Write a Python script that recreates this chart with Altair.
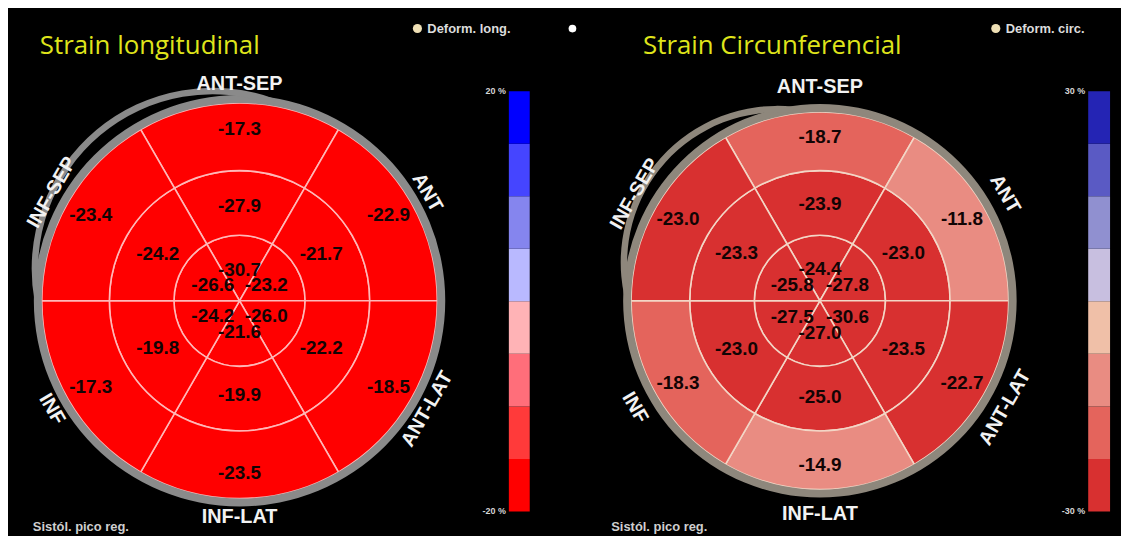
import math
import pandas as pd
import altair as alt

# ---------------- data ----------------
segments = ["ANT-SEP", "ANT", "ANT-LAT", "INF-LAT", "INF", "INF-SEP"]  # clockwise from top

long_apex = [-30.7, -23.2, -26.0, -21.6, -24.2, -26.6]
long_mid = [-27.9, -21.7, -22.2, -19.9, -19.8, -24.2]
long_outer = [-17.3, -22.9, -18.5, -23.5, -17.3, -23.4]

circ_apex = [-24.4, -27.8, -30.6, -27.0, -27.5, -25.8]
circ_mid = [-23.9, -23.0, -23.5, -25.0, -23.0, -23.3]
circ_outer = [-18.7, -11.8, -22.7, -14.9, -18.3, -23.0]

long_range = [-20, 20]
circ_range = [-30, 30]
long_ticks = ["20 %", "-20 %"]
circ_ticks = ["30 %", "-30 %"]

# colour steps, bottom (most negative) to top
long_colors = ["#ff0000", "#ff3a3a", "#ff6e7a", "#ffb3b6", "#b9b9ff", "#8585ee", "#4545ff", "#0000ff"]
circ_colors = ["#d83030", "#e4645c", "#e98c82", "#f0c0a8", "#c8bfe0", "#9090d0", "#5a5ac4", "#2424b4"]

W, H = 560, 528


def panel(title, legend_label, apex, mid, outer, vrange, colors, ticks, g, white_dot=False):
    cx, cy, R = g["cx"], g["cy"], g["R"]
    ring_px = [0, 66, 131, R]

    def to_u(px):
        if px <= 66:
            return px / 66
        if px <= 131:
            return 1 + (px - 66) / 65
        return 2 + (px - 131) / (R - 131)

    theta_scale = alt.Scale(domain=[0, 360], range=[0, 2 * math.pi])
    radius_scale = alt.Scale(type="linear", domain=[0, 1, 2, 3], range=ring_px)
    lo, hi = vrange
    step = (hi - lo) / 8
    color_scale = alt.Scale(type="threshold", domain=[lo + step * i for i in range(1, 8)], range=colors)

    rows = []
    for ring, vals in enumerate([apex, mid, outer]):
        for s, v in enumerate(vals):
            rows.append({
                "seg": segments[s], "ring": ring, "value": v,
                "label": f"{v:.1f}",
                "t0": s * 60 - 30, "t1": s * 60 + 30, "tm": s * 60,
                "r0": ring, "r1": ring + 1,
                "lr": to_u(g["lab_px"][ring]),
            })
    df = pd.DataFrame(rows)

    cxv, cyv = alt.value(cx), alt.value(cy)

    fills = alt.Chart(df).mark_arc(stroke=g["line"], strokeWidth=1.6).encode(
        x=cxv, y=cyv,
        theta=alt.Theta("t0:Q", scale=theta_scale, stack=False),
        theta2="t1:Q",
        radius=alt.Radius("r1:Q", scale=radius_scale),
        radius2="r0:Q",
        color=alt.Color("value:Q", scale=color_scale, legend=None),
    )

    rim_df = pd.DataFrame({"t0": [0], "t1": [360], "r0": [3], "r1": [to_u(R + g["rimw"])]})
    rim = alt.Chart(rim_df).mark_arc(color=g["rim"]).encode(
        x=cxv, y=cyv,
        theta=alt.Theta("t0:Q", scale=theta_scale, stack=False),
        theta2="t1:Q",
        radius=alt.Radius("r1:Q", scale=radius_scale),
        radius2="r0:Q",
    )

    # loop of the rim at the upper-left (decorative)
    Rm = R + g["rimw"] / 2
    p = g["loop_p"]
    ta, tb = g["loop_a"], g["loop_b"]
    bis = math.radians((ta + tb) / 2)
    alpha = math.radians((tb - ta) / 2)
    t = ((Rm + p) ** 2 - Rm ** 2) / (2 * (Rm + p) - 2 * Rm * math.cos(alpha))
    rho = Rm + p - t
    Cx, Cy = cx + t * math.sin(bis), cy - t * math.cos(bis)

    def ang(th):
        ax, ay = cx + Rm * math.sin(math.radians(th)), cy - Rm * math.cos(math.radians(th))
        return math.degrees(math.atan2(ax - Cx, -(ay - Cy)))

    pa, pb = ang(ta), ang(tb)
    while pb < pa:
        pb += 360
    lw = g["rimw"] - 1.5
    loop_df = pd.DataFrame({"t0": [pa], "t1": [pb], "r0": [to_u(rho - lw / 2)], "r1": [to_u(rho + lw / 2)]})
    loop = alt.Chart(loop_df).mark_arc(color=g["rim"]).encode(
        x=alt.value(Cx), y=alt.value(Cy),
        theta=alt.Theta("t0:Q", scale=theta_scale, stack=False),
        theta2="t1:Q",
        radius=alt.Radius("r1:Q", scale=radius_scale),
        radius2="r0:Q",
    )

    values = alt.Chart(df).mark_text(
        font="Liberation Sans", fontSize=19, fontWeight="bold", color="#120404",
        align="center", baseline="middle",
    ).encode(
        x=cxv, y=cyv,
        theta=alt.Theta("tm:Q", scale=theta_scale, stack=False),
        radius=alt.Radius("lr:Q", scale=radius_scale),
        text="label:N",
    )

    dir_df = pd.DataFrame({
        "name": segments,
        "tm": [s * 60 for s in range(6)],
    })
    dir_df["lr"] = to_u(g["dir_px"])
    dir_df["rot"] = (((dir_df["tm"] + 90) % 180) - 90) % 360
    dirs = alt.Chart(dir_df).mark_text(
        font="Liberation Sans", fontSize=20, fontWeight="bold", color="#f2f2f2",
        align="center", baseline="middle",
    ).encode(
        x=cxv, y=cyv,
        theta=alt.Theta("tm:Q", scale=theta_scale, stack=False),
        radius=alt.Radius("lr:Q", scale=radius_scale),
        angle=alt.Angle("rot:Q", scale=None),
        text="name:N",
    )

    # colour bar
    y_scale = alt.Scale(domain=[lo, hi], range=[g["bar_bot"], g["bar_top"]], nice=False)
    bar_df = pd.DataFrame({
        "lo": [lo + step * i for i in range(8)],
        "hi": [lo + step * (i + 1) for i in range(8)],
    })
    bar_df["value"] = (bar_df["lo"] + bar_df["hi"]) / 2
    bar = alt.Chart(bar_df).mark_rect().encode(
        x=alt.value(g["bar_x0"]), x2=alt.value(g["bar_x1"]),
        y=alt.Y("hi:Q", scale=y_scale, axis=None), y2="lo:Q",
        color=alt.Color("value:Q", scale=color_scale, legend=None),
    )
    tick_df = pd.DataFrame({"v": [hi, lo], "lab": ticks})
    tick_txt = alt.Chart(tick_df).mark_text(
        font="Liberation Sans", fontSize=9, fontWeight="bold", color="#d6d6d6",
        align="right", baseline="middle",
    ).encode(
        x=alt.value(g["bar_x0"] - 3),
        y=alt.Y("v:Q", scale=y_scale, axis=None),
        text="lab:N",
    )

    ttl = alt.Chart(pd.DataFrame({"t": [title]})).mark_text(
        font="Open Sans", fontSize=26, color="#dfe41b", align="left", baseline="middle",
    ).encode(x=alt.value(g["title_x"]), y=alt.value(37), text="t:N")

    leg_dot = alt.Chart(pd.DataFrame({"a": [0]})).mark_circle(
        color="#efe0b5", opacity=1, size=85,
    ).encode(x=alt.value(g["leg_x"]), y=alt.value(19))
    leg_txt = alt.Chart(pd.DataFrame({"t": [legend_label]})).mark_text(
        font="Liberation Sans", fontSize=13, fontWeight="bold", color="#dcdcdc",
        align="left", baseline="middle",
    ).encode(x=alt.value(g["leg_x"] + 10), y=alt.value(19), text="t:N")

    foot = alt.Chart(pd.DataFrame({"t": ["Sistól. pico reg."]})).mark_text(
        font="Liberation Sans", fontSize=13, fontWeight="bold", color="#cfcfcf",
        align="left", baseline="middle",
    ).encode(x=alt.value(g["foot_x"]), y=alt.value(521), text="t:N")

    layers = [fills, rim, loop, dirs, values, bar, tick_txt, ttl, leg_dot, leg_txt, foot]
    if white_dot:
        wd = alt.Chart(pd.DataFrame({"a": [0]})).mark_circle(
            color="#ffffff", opacity=1, size=60,
        ).encode(x=alt.value(8), y=alt.value(19))
        layers.append(wd)
    return alt.layer(*layers).properties(width=W, height=H)


geo_left = dict(cx=233, cy=293, R=199, rimw=8, lab_px=[31, 95, 173], dir_px=218,
                line="#ffb8b8", rim="#8a8a8a", loop_p=18, loop_a=270, loop_b=370,
                bar_x0=504, bar_x1=525, bar_top=82, bar_bot=505,
                title_x=32, leg_x=412, foot_x=25)
geo_right = dict(cx=257, cy=293, R=190, rimw=8, lab_px=[32, 97, 165], dir_px=215,
                 line="#f3d6c6", rim="#8e877c", loop_p=18, loop_a=272, loop_b=352,
                 bar_x0=527, bar_x1=549, bar_top=82, bar_bot=505,
                 title_x=79, leg_x=434, foot_x=47)

left = panel("Strain longitudinal", "Deform. long.", long_apex, long_mid, long_outer,
             long_range, long_colors, long_ticks, geo_left)
right = panel("Strain Circunferencial", "Deform. circ.", circ_apex, circ_mid, circ_outer,
              circ_range, circ_colors, circ_ticks, geo_right, white_dot=True)

chart = alt.hconcat(left, right, spacing=0).resolve_scale(
    color="independent", theta="independent", radius="independent", y="independent"
).properties(
    padding=0, background="#000000"
).configure_view(strokeWidth=0)

chart.save("out.html", embed_options={"renderer": "svg", "actions": False})
